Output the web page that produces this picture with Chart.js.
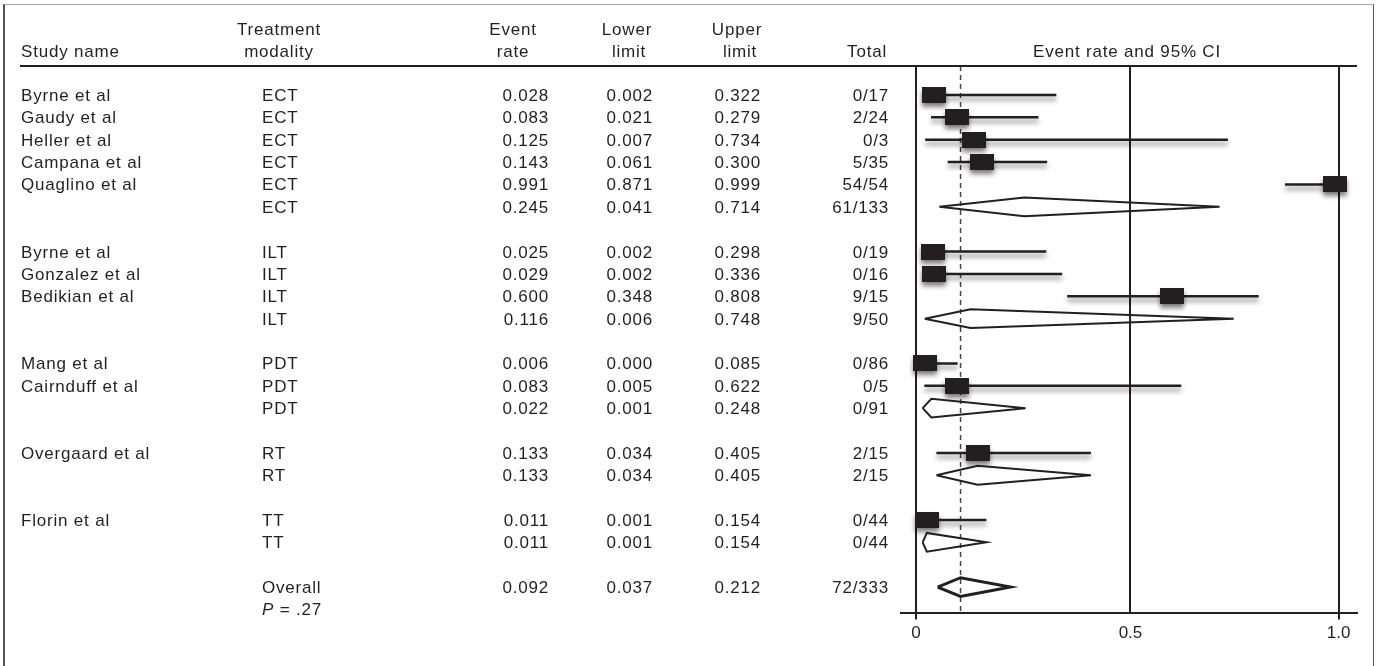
<!DOCTYPE html>
<html>
<head>
<meta charset="utf-8">
<script src="https://cdn.jsdelivr.net/npm/chart.js@4"></script>
<style>
  html, body { margin: 0; padding: 0; background: #fff; overflow: hidden; }
  #frame { position: absolute; left: 3px; top: 4px; width: 1368px; height: 700px;
           border-left: 2px solid #555; border-top: 1px solid #aaa; border-right: 1px solid #555; }
  #chart { position: absolute; left: 0; top: 0; }
</style>
</head>
<body>
<div id="frame"></div>
<canvas id="chart" width="1379" height="666"></canvas>
<script>
// one entry per row of the table, blank rows separate the treatment groups
const studyNames = ['Byrne et al', 'Gaudy et al', 'Heller et al', 'Campana et al', 'Quaglino et al', '', '',
    'Byrne et al', 'Gonzalez et al', 'Bedikian et al', '', '',
    'Mang et al', 'Cairnduff et al', '', '',
    'Overgaard et al', '', '',
    'Florin et al', '', '',
    ''];
const modality = ['ECT', 'ECT', 'ECT', 'ECT', 'ECT', 'ECT', '',
    'ILT', 'ILT', 'ILT', 'ILT', '',
    'PDT', 'PDT', 'PDT', '',
    'RT', 'RT', '',
    'TT', 'TT', '',
    'Overall'];
const rowKind = ['study', 'study', 'study', 'study', 'study', 'subtotal', '',
    'study', 'study', 'study', 'subtotal', '',
    'study', 'study', 'subtotal', '',
    'study', 'subtotal', '',
    'study', 'subtotal', '',
    'overall'];
const eventRate = [0.028, 0.083, 0.125, 0.143, 0.991, 0.245, null,
    0.025, 0.029, 0.600, 0.116, null,
    0.006, 0.083, 0.022, null,
    0.133, 0.133, null,
    0.011, 0.011, null,
    0.092];
const lowerLimit = [0.002, 0.021, 0.007, 0.061, 0.871, 0.041, null,
    0.002, 0.002, 0.348, 0.006, null,
    0.000, 0.005, 0.001, null,
    0.034, 0.034, null,
    0.001, 0.001, null,
    0.037];
const upperLimit = [0.322, 0.279, 0.734, 0.300, 0.999, 0.714, null,
    0.298, 0.336, 0.808, 0.748, null,
    0.085, 0.622, 0.248, null,
    0.405, 0.405, null,
    0.154, 0.154, null,
    0.212];
const totals = ['0/17', '2/24', '0/3', '5/35', '54/54', '61/133', '',
    '0/19', '0/16', '9/15', '9/50', '',
    '0/86', '0/5', '0/91', '',
    '2/15', '2/15', '',
    '0/44', '0/44', '',
    '72/333'];
const pValue = '.27';
const overallRate = 0.092;

// the zero line sits a little left of the data origin in the original figure
const xTickValues = [-0.015, 0.5, 1.0];
const xTickLabels = ['0', '0.5', '1.0'];

const ink = '#231f20';
const font = '17px "Liberation Sans", Arial, sans-serif';
const Y_MIN = -1.295;
const Y_MAX = 23.14;
const HALF = 0.42;   // half height of a diamond, in rows

// study boxes
const box = document.createElement('canvas');
box.width = 24;
box.height = 16;
const bctx = box.getContext('2d');
bctx.fillStyle = ink;
bctx.fillRect(0, 0, 24, 16);

const ciPoints = [];
const boxPoints = [];
const subPoints = [];
const overallPoints = [];
rowKind.forEach((kind, i) => {
    if (kind === 'study') {
        ciPoints.push({ x: lowerLimit[i], y: i }, { x: upperLimit[i], y: i }, { x: null, y: null });
        boxPoints.push({ x: eventRate[i], y: i });
    } else if (kind === 'subtotal' || kind === 'overall') {
        const target = kind === 'overall' ? overallPoints : subPoints;
        target.push(
            { x: lowerLimit[i], y: i },
            { x: eventRate[i], y: i - HALF },
            { x: upperLimit[i], y: i },
            { x: eventRate[i], y: i + HALF },
            { x: lowerLimit[i], y: i },
            { x: null, y: null }
        );
    }
});

function put(ctx, s, x, y, align) {
    ctx.textAlign = align;
    ctx.fillText(s, x, y);
}

const tablePlugin = {
    id: 'table',
    afterDraw(chart) {
        const ctx = chart.ctx;
        const ys = chart.scales.y;
        const area = chart.chartArea;
        ctx.save();
        ctx.fillStyle = ink;
        ctx.font = font;
        ctx.letterSpacing = '0.8px';
        ctx.textBaseline = 'alphabetic';

        // headings
        put(ctx, 'Treatment', 279, 35, 'center');
        put(ctx, 'Event', 513, 35, 'center');
        put(ctx, 'Lower', 627, 35, 'center');
        put(ctx, 'Upper', 737, 35, 'center');
        put(ctx, 'Study name', 21, 57, 'left');
        put(ctx, 'modality', 279, 57, 'center');
        put(ctx, 'rate', 513, 57, 'center');
        put(ctx, 'limit', 629, 57, 'center');
        put(ctx, 'limit', 740, 57, 'center');
        put(ctx, 'Total', 887, 57, 'right');
        put(ctx, 'Event rate and 95% CI', 1127, 57, 'center');

        ctx.strokeStyle = ink;
        ctx.lineWidth = 2;
        ctx.beginPath();
        ctx.moveTo(20, area.top);
        ctx.lineTo(area.right, area.top);
        ctx.stroke();

        rowKind.forEach((kind, i) => {
            if (!kind) return;
            const py = ys.getPixelForValue(i) + 6;
            put(ctx, studyNames[i], 21, py, 'left');
            put(ctx, modality[i], 262, py, 'left');
            put(ctx, eventRate[i].toFixed(3), 549, py, 'right');
            put(ctx, lowerLimit[i].toFixed(3), 653, py, 'right');
            put(ctx, upperLimit[i].toFixed(3), 761, py, 'right');
            put(ctx, totals[i], 889, py, 'right');
        });

        const py = ys.getPixelForValue(rowKind.length) + 6;
        ctx.textAlign = 'left';
        ctx.font = 'italic ' + font;
        ctx.fillText('P', 262, py);
        const w = ctx.measureText('P').width;
        ctx.font = font;
        ctx.fillText(' = ' + pValue, 262 + w, py);
        ctx.restore();
    }
};

const shadowPlugin = {
    id: 'shadow',
    beforeDatasetDraw(chart, args) {
        if (!chart.data.datasets[args.index].shadow) return;
        const ctx = chart.ctx;
        ctx.save();
        ctx.shadowColor = 'rgba(0, 0, 0, 0.5)';
        ctx.shadowBlur = 5;
        ctx.shadowOffsetY = 4;
    },
    afterDatasetDraw(chart, args) {
        if (chart.data.datasets[args.index].shadow) chart.ctx.restore();
    }
};

new Chart(document.getElementById('chart'), {
    type: 'scatter',
    data: {
        datasets: [
            {
                data: overallPoints,
                showLine: true,
                spanGaps: false,
                borderColor: ink,
                borderWidth: 3,
                borderJoinStyle: 'miter',
                pointRadius: 0,
                fill: false,
                order: 1
            },
            {
                data: subPoints,
                showLine: true,
                spanGaps: false,
                borderColor: ink,
                borderWidth: 2,
                borderJoinStyle: 'miter',
                pointRadius: 0,
                fill: false,
                order: 1
            },
            {
                data: boxPoints,
                pointStyle: box,
                pointRadius: 8,
                shadow: true,
                order: 2
            },
            {
                data: ciPoints,
                showLine: true,
                spanGaps: false,
                borderColor: ink,
                borderWidth: 2.5,
                pointRadius: 0,
                shadow: true,
                order: 3
            },
            {
                data: [{ x: overallRate, y: Y_MIN }, { x: overallRate, y: Y_MAX }],
                showLine: true,
                borderColor: '#444',
                borderWidth: 1.5,
                borderDash: [5, 4],
                pointRadius: 0,
                order: 4
            }
        ]
    },
    options: {
        responsive: false,
        animation: false,
        devicePixelRatio: 1,
        layout: { padding: { left: 901, right: 22, top: 66, bottom: 18 } },
        plugins: { legend: { display: false }, tooltip: { enabled: false } },
        scales: {
            x: {
                type: 'linear',
                min: -0.051,
                max: 1.044,
                afterBuildTicks: (s) => { s.ticks = xTickValues.map(v => ({ value: v })); },
                ticks: {
                    callback: (v, i) => xTickLabels[i],
                    color: ink,
                    font: { family: '"Liberation Sans", Arial, sans-serif', size: 17 },
                    padding: 4,
                    maxRotation: 0,
                    autoSkip: false
                },
                grid: {
                    color: ink,
                    lineWidth: 2,
                    tickLength: 7,
                    tickColor: (c) => c.index === 1 ? 'rgba(0,0,0,0)' : ink
                },
                border: { color: ink, width: 2 }
            },
            y: {
                type: 'linear',
                display: false,
                reverse: true,
                min: Y_MIN,
                max: Y_MAX
            }
        }
    },
    plugins: [tablePlugin, shadowPlugin]
});
</script>
</body>
</html>
